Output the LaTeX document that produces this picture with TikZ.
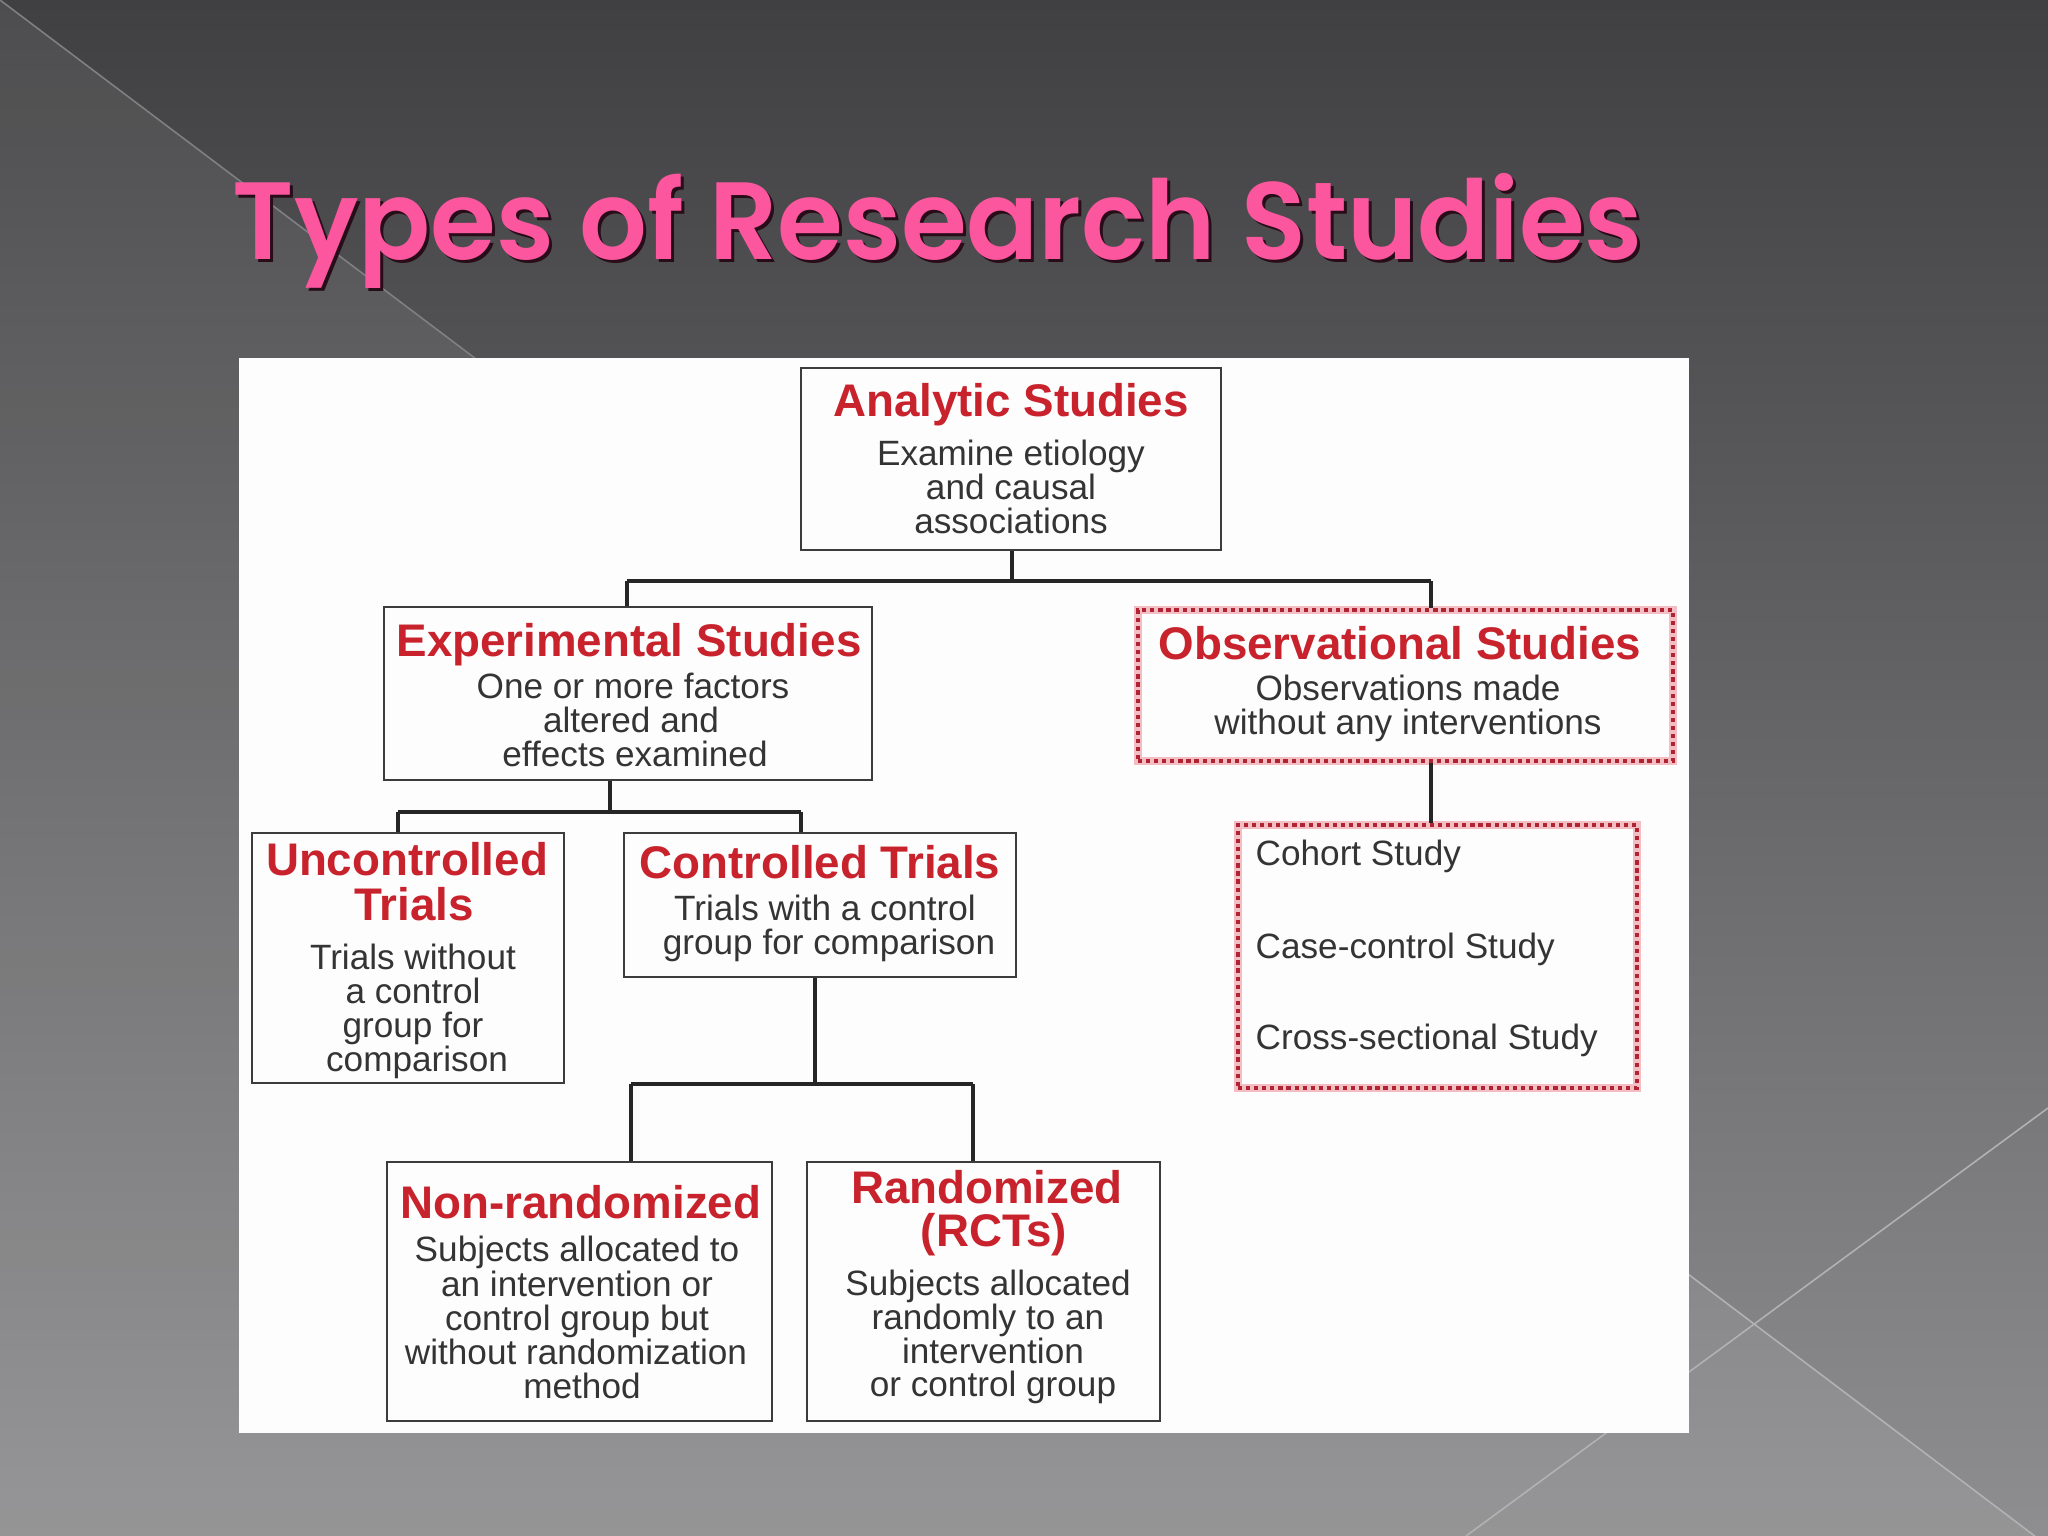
\documentclass[tikz,border=0pt]{standalone}
\usepackage{fontspec}
\usepackage{graphicx}
\setmainfont{Liberation Sans}
\newfontfamily\titlefont{Poppins SemiBold}
\usetikzlibrary{calc}
\definecolor{bgtop}{RGB}{64,64,66}
\definecolor{bgbot}{RGB}{142,141,143}
\definecolor{pinkt}{RGB}{252,86,158}
\definecolor{shadowc}{RGB}{40,12,24}
\definecolor{redt}{RGB}{200,34,44}
\definecolor{bodyc}{RGB}{52,52,52}
\definecolor{boxc}{RGB}{60,60,60}
\definecolor{dotc}{RGB}{175,35,50}
\definecolor{halo}{RGB}{242,190,195}
\definecolor{panelc}{RGB}{253,253,253}
\definecolor{lineup}{RGB}{128,128,130}
\definecolor{linelow}{RGB}{178,178,180}
\tikzset{
  box/.style={draw=boxc, line width=0.75pt, inner sep=0pt},
  dotbox/.style={draw=dotc, line width=1.1pt, dash pattern=on 1.2pt off 1.1pt, inner sep=0pt,
    preaction={draw=halo, line width=2.4pt, solid}},
  conn/.style={draw=black!85, line width=1.1pt},
  ttl/.style={font=\fontsize{13}{13}\selectfont\bfseries, text=redt, anchor=base, inner sep=0pt},
  bdy/.style={font=\fontsize{10}{10}\selectfont, text=bodyc, anchor=base, inner sep=0pt},
  bdyl/.style={bdy, anchor=base west},
  bgline/.style={line width=0.45pt}
}
\begin{document}
\begin{tikzpicture}[x=0.01cm, y=-0.01cm]
\useasboundingbox (0,0) rectangle (2048,1536);
\clip (0,0) rectangle (2048,1536);
% background
\shade[top color=bgtop, bottom color=bgbot] (0,0) rectangle (2048,1536);
\fill[white, opacity=0.07] (0,0) -- (2035,1536) -- (0,1536) -- cycle;
\draw[bgline, draw=lineup] (0,0) -- (480,362);
\draw[bgline, draw=linelow] (1680,1268) -- (2048,1546);
\draw[bgline, draw=linelow] (2048,1108) -- (1466,1536);
% title
\node[anchor=base west, inner sep=0pt, text=shadowc] (titleshadow) at (235,262)
  {\resizebox{401pt}{24.5pt}{\titlefont Types of Research Studies}};
\node[anchor=base west, inner sep=0pt, text=pinkt] (title) at (232,259)
  {\resizebox{401pt}{24.5pt}{\titlefont Types of Research Studies}};
% panel
\fill[panelc] (239,358) rectangle (1689,1433);
% boxes
\node[box, minimum width=4.20cm, minimum height=1.82cm] (A) at (1011,459) {};
\node[box, minimum width=4.88cm, minimum height=1.73cm] (E) at (628,693.5) {};
\node[dotbox, minimum width=5.35cm, minimum height=1.51cm] (O) at (1405.5,685.5) {};
\node[dotbox, minimum width=3.99cm, minimum height=2.63cm] (K) at (1437.5,956.5) {};
\node[box, minimum width=3.12cm, minimum height=2.50cm] (U) at (408,958) {};
\node[box, minimum width=3.92cm, minimum height=1.44cm] (C) at (820,905) {};
\node[box, minimum width=3.85cm, minimum height=2.59cm] (N) at (579.5,1291.5) {};
\node[box, minimum width=3.53cm, minimum height=2.59cm] (R) at (983.5,1291.5) {};
% connectors
\coordinate (j1) at (1012,581);
\coordinate (j1l) at (627,581);
\coordinate (j1r) at (1431,581);
\draw[conn] (j1 |- A.south) -- (j1);
\draw[conn] (j1l) -- (j1r);
\draw[conn] (j1l) -- (j1l |- E.north);
\draw[conn] (j1r) -- (j1r |- O.north);
\draw[conn] (j1r |- O.south) -- (j1r |- K.north);
\coordinate (j2) at (610,812);
\coordinate (j2l) at (398,812);
\coordinate (j2r) at (801,812);
\draw[conn] (j2 |- E.south) -- (j2);
\draw[conn] (j2l) -- (j2r);
\draw[conn] (j2l) -- (j2l |- U.north);
\draw[conn] (j2r) -- (j2r |- C.north);
\coordinate (j3) at (815,1084);
\coordinate (j3l) at (631,1084);
\coordinate (j3r) at (973,1084);
\draw[conn] (j3 |- C.south) -- (j3);
\draw[conn] (j3l) -- (j3r);
\draw[conn] (j3l) -- (j3l |- N.north);
\draw[conn] (j3r) -- (j3r |- R.north);
% Analytic
\node[ttl] (ta) at (1011,416) {Analytic Studies};
\node[bdy] (a1) at (1011,465) {Examine etiology};
\node[bdy] (a2) at (1011,499) {and causal};
\node[bdy] (a3) at (1011,533) {associations};
% Experimental
\node[ttl] (te) at (629,656) {Experimental Studies};
\node[bdy] (e1) at (633,698) {One or more factors};
\node[bdy] (e2) at (631,732) {altered and};
\node[bdy] (e3) at (635,766) {effects examined};
% Observational
\node[ttl] (to) at (1400,659) {Observational Studies};
\node[bdy] (o1) at (1408,700) {Observations made};
\node[bdy] (o2) at (1408,734) {without any interventions};
% Cohort list
\node[bdyl] (k1) at (1255,865) {Cohort Study};
\node[bdyl] (k2) at (1255,958) {Case-control Study};
\node[bdyl] (k3) at (1255,1049) {Cross-sectional Study};
% Uncontrolled
\node[ttl] (tu1) at (407,875) {Uncontrolled};
\node[ttl] (tu2) at (414,920) {Trials};
\node[bdy] (u1) at (413,969) {Trials without};
\node[bdy] (u2) at (413,1003) {a control};
\node[bdy] (u3) at (413,1037) {group for};
\node[bdy] (u4) at (417,1071) {comparison};
% Controlled
\node[ttl] (tc) at (820,878) {Controlled Trials};
\node[bdy] (c1) at (825,920) {Trials with a control};
\node[bdy] (c2) at (829,954) {group for comparison};
% Non-randomized
\node[ttl] (tn) at (581,1218) {Non-randomized};
\node[bdy] (n1) at (577,1261) {Subjects allocated to};
\node[bdy] (n2) at (577,1296) {an intervention or};
\node[bdy] (n3) at (577,1330) {control group but};
\node[bdy] (n4) at (576,1364) {without randomization};
\node[bdy] (n5) at (582,1398) {method};
% Randomized
\node[ttl] (tr1) at (987,1203) {Randomized};
\node[ttl] (tr2) at (994,1246) {(RCTs)};
\node[bdy] (r1) at (988,1295) {Subjects allocated};
\node[bdy] (r2) at (988,1329) {randomly to an};
\node[bdy] (r3) at (993,1363) {intervention};
\node[bdy] (r4) at (993,1396) {or control group};
\end{tikzpicture}
\end{document}
